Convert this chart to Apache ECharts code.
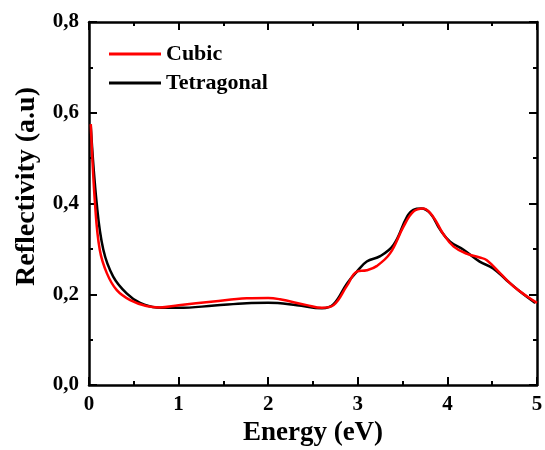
<!DOCTYPE html>
<html><head><meta charset="utf-8">
<script src="https://cdn.jsdelivr.net/npm/echarts@6/dist/echarts.min.js"></script>
<style>html,body{margin:0;padding:0;background:#fff}#c{width:545px;height:450px}</style>
</head><body><div id="c"></div>
<script>
const cubicX = [0.02,0.067,0.12,0.2,0.31,0.46,0.64,0.79,1.0,1.39,1.76,2.0,2.13,2.43,2.6,2.73,2.88,2.99,3.1,3.21,3.36,3.51,3.62,3.73,3.84,3.95,4.07,4.22,4.36,4.44,4.59,4.74,4.89,5.0];
const cubicY = [0.575,0.40,0.298,0.246,0.209,0.187,0.174,0.171,0.176,0.184,0.191,0.192,0.189,0.176,0.170,0.176,0.219,0.25,0.253,0.262,0.29,0.349,0.382,0.389,0.371,0.334,0.305,0.289,0.281,0.275,0.246,0.217,0.195,0.181];
const tetraX = [0.02,0.086,0.16,0.27,0.42,0.57,0.755,1.0,1.4,1.76,2.0,2.32,2.6,2.73,2.88,2.99,3.1,3.25,3.4,3.55,3.62,3.71,3.81,3.92,4.03,4.18,4.36,4.51,4.66,4.81,4.98];
const tetraY = [0.57,0.40,0.298,0.239,0.202,0.181,0.171,0.170,0.175,0.18,0.181,0.176,0.169,0.178,0.224,0.25,0.272,0.284,0.309,0.371,0.386,0.389,0.378,0.342,0.316,0.298,0.272,0.257,0.231,0.206,0.181];
const seriesNames = ['Cubic','Tetragonal'];
const xTitle = 'Energy (eV)';
const yTitle = 'Reflectivity (a.u)';

const F = '"Liberation Serif","Times New Roman",serif';
const zip = (a,b)=>a.map((v,i)=>[v,b[i]]);
const axisCommon = {
  axisLine:{show:true,onZero:false,lineStyle:{color:'#000',width:2.5}},
  axisTick:{show:true,inside:true,length:8,lineStyle:{color:'#000',width:2}},
  minorTick:{show:true,splitNumber:2,length:4,lineStyle:{color:'#000',width:2}},
  splitLine:{show:false}
};
const chart = echarts.init(document.getElementById('c'));
chart.setOption({
  animation:false,
  grid:{left:89,top:22,width:448,height:363,containLabel:false,outerBoundsMode:'none'},
  legend:{
    orient:'vertical',left:104,top:38,itemWidth:52,itemHeight:3,itemGap:7,
    icon:'rect',
    textStyle:{fontFamily:F,fontWeight:'bold',fontSize:22,color:'#000',lineHeight:22},
    data:[{name:'Cubic',itemStyle:{color:'#ff0000'}},{name:'Tetragonal',itemStyle:{color:'#000'}}]
  },
  xAxis:[
    Object.assign({type:'value',min:0,max:5,interval:1,position:'bottom',
      name:xTitle,nameLocation:'middle',nameGap:34,
      nameTextStyle:{fontFamily:F,fontWeight:'bold',fontSize:27,color:'#000'},
      axisLabel:{fontFamily:F,fontWeight:'bold',fontSize:21,color:'#000',margin:9}},axisCommon),
    Object.assign({type:'value',min:0,max:5,interval:1,position:'top',axisLabel:{show:false}},axisCommon)
  ],
  yAxis:[
    Object.assign({type:'value',min:0,max:0.8,interval:0.2,position:'left',
      name:yTitle,nameLocation:'middle',nameGap:48,
      nameTextStyle:{fontFamily:F,fontWeight:'bold',fontSize:28,color:'#000',padding:[0,0,0,34]},
      axisLabel:{fontFamily:F,fontWeight:'bold',fontSize:21,color:'#000',margin:10,
        formatter:v=>v.toFixed(1).replace('.',',')}},axisCommon),
    Object.assign({type:'value',min:0,max:0.8,interval:0.2,position:'right',axisLabel:{show:false}},axisCommon)
  ],
  series:[
    {name:seriesNames[0],type:'line',data:zip(cubicX,cubicY),smooth:0.4,symbol:'none',
      lineStyle:{color:'#ff0000',width:2.5},itemStyle:{color:'#ff0000'},z:3},
    {name:seriesNames[1],type:'line',data:zip(tetraX,tetraY),smooth:0.4,symbol:'none',
      lineStyle:{color:'#000',width:2.5},itemStyle:{color:'#000'},z:2}
  ]
});
</script></body></html>
